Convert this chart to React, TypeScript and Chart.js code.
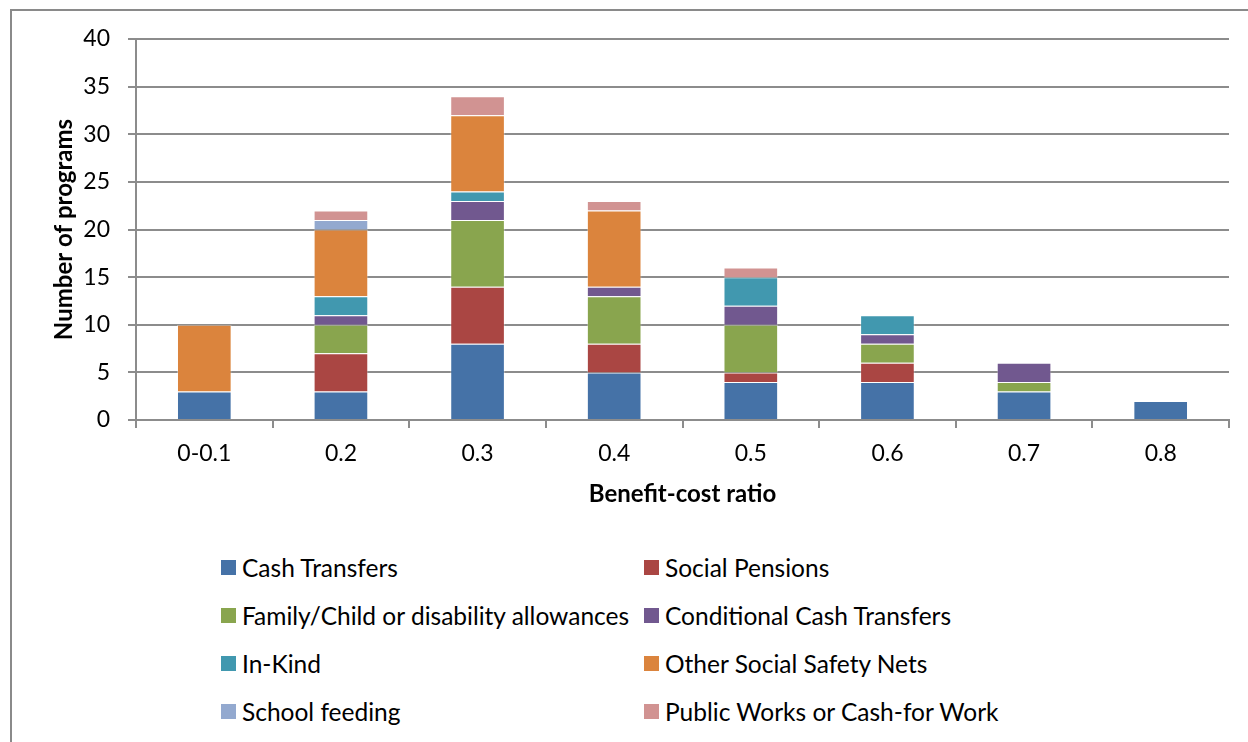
import React, { useEffect, useRef } from "react";
import { Chart, registerables } from "chart.js";

Chart.register(...registerables);

const categories = ["0-0.1", "0.2", "0.3", "0.4", "0.5", "0.6", "0.7", "0.8"];
const cashTransfers = [3, 3, 8, 5, 4, 4, 3, 2];
const socialPensions = [0, 4, 6, 3, 1, 2, 0, 0];
const familyChild = [0, 3, 7, 5, 5, 2, 1, 0];
const conditionalCash = [0, 1, 2, 1, 2, 1, 2, 0];
const inKind = [0, 2, 1, 0, 3, 2, 0, 0];
const otherSafetyNets = [7, 7, 8, 8, 0, 0, 0, 0];
const schoolFeeding = [0, 1, 0, 0, 0, 0, 0, 0];
const publicWorks = [0, 1, 2, 1, 1, 0, 0, 0];

const seriesNames = [
  "Cash Transfers",
  "Social Pensions",
  "Family/Child or disability allowances",
  "Conditional Cash Transfers",
  "In-Kind",
  "Other Social Safety Nets",
  "School feeding",
  "Public Works or Cash-for Work",
];
const seriesValues = [
  cashTransfers,
  socialPensions,
  familyChild,
  conditionalCash,
  inKind,
  otherSafetyNets,
  schoolFeeding,
  publicWorks,
];
const seriesColors = [
  "#4572A7",
  "#AA4643",
  "#89A54E",
  "#71588F",
  "#4198AF",
  "#DB843D",
  "#93A9CF",
  "#D19392",
];

const yMax = 40;
const yStep = 5;
const xTitle = "Benefit-cost ratio";
const yTitle = "Number of programs";

const FONT = "Lato, 'Noto Sans', sans-serif";

export default function App() {
  const ref = useRef<HTMLCanvasElement | null>(null);

  useEffect(() => {
    document.body.style.overflow = "hidden";
    const canvas = ref.current;
    if (!canvas) return;
    const chart = new Chart(canvas, {
      type: "bar",
      data: {
        labels: categories,
        datasets: seriesNames.map((name, i) => ({
          label: name,
          data: seriesValues[i],
          backgroundColor: seriesColors[i],
          borderColor: "rgba(255,255,255,0.35)",
          borderWidth: 1,
          barPercentage: 0.4,
          categoryPercentage: 1,
        })),
      },
      options: {
        responsive: false,
        animation: false,
        devicePixelRatio: 1,
        layout: { padding: { left: 0, right: 19, top: 39, bottom: 10 } },
        plugins: {
          legend: { display: false },
          tooltip: { enabled: false },
        },
        scales: {
          x: {
            stacked: true,
            afterFit: (scale: any) => {
              scale.height = 90;
            },
            grid: {
              display: true,
              drawOnChartArea: false,
              drawTicks: true,
              tickLength: 8,
              offset: true,
              color: "#8c8c8c",
              lineWidth: 2,
            },
            border: { display: true, color: "#8c8c8c", width: 2 },
            ticks: {
              color: "#000",
              padding: 12,
              font: { family: FONT, size: 23 },
            },
            title: {
              display: true,
              text: xTitle,
              color: "#000",
              padding: { top: 4, bottom: 1 },
              font: { family: FONT, size: 24, weight: "bold" },
            },
          },
          y: {
            stacked: true,
            min: 0,
            max: yMax,
            afterFit: (scale: any) => {
              scale.width = 136;
            },
            grid: {
              color: "#8c8c8c",
              lineWidth: 2,
              drawTicks: true,
              tickLength: 8,
            },
            border: { display: true, color: "#8c8c8c", width: 2 },
            ticks: {
              stepSize: yStep,
              color: "#000",
              padding: 18,
              font: { family: FONT, size: 23 },
            },
            title: {
              display: true,
              text: yTitle,
              color: "#000",
              padding: { top: 50, bottom: 0 },
              font: { family: FONT, size: 24, weight: "bold" },
            },
          },
        },
      },
    });
    return () => chart.destroy();
  }, []);

  return (
    <div
      style={{
        position: "absolute",
        left: 0,
        top: 0,
        width: 1248,
        height: 742,
        overflow: "hidden",
        background: "#fff",
        fontFamily: FONT,
      }}
    >
      <div
        style={{
          position: "absolute",
          left: 10,
          top: 9,
          width: 1300,
          height: 800,
          borderLeft: "2px solid #8a8a8a",
          borderTop: "2px solid #8a8a8a",
        }}
      />
      <canvas
        ref={ref}
        width={1248}
        height={520}
        style={{ position: "absolute", left: 0, top: 0, width: 1248, height: 520 }}
      />
      {seriesNames.map((name, i) => {
        const col = i % 2;
        const row = Math.floor(i / 2);
        return (
          <div
            key={name}
            style={{
              position: "absolute",
              left: col === 0 ? 221 : 644,
              top: 567 + row * 48 - 15,
              height: 30,
              display: "flex",
              alignItems: "center",
              whiteSpace: "nowrap",
              fontSize: 24.5,
              color: "#000",
            }}
          >
            <span
              style={{
                display: "inline-block",
                width: 15,
                height: 15,
                background: seriesColors[i],
                marginRight: 6,
              }}
            />
            <span>{name}</span>
          </div>
        );
      })}
    </div>
  );
}
